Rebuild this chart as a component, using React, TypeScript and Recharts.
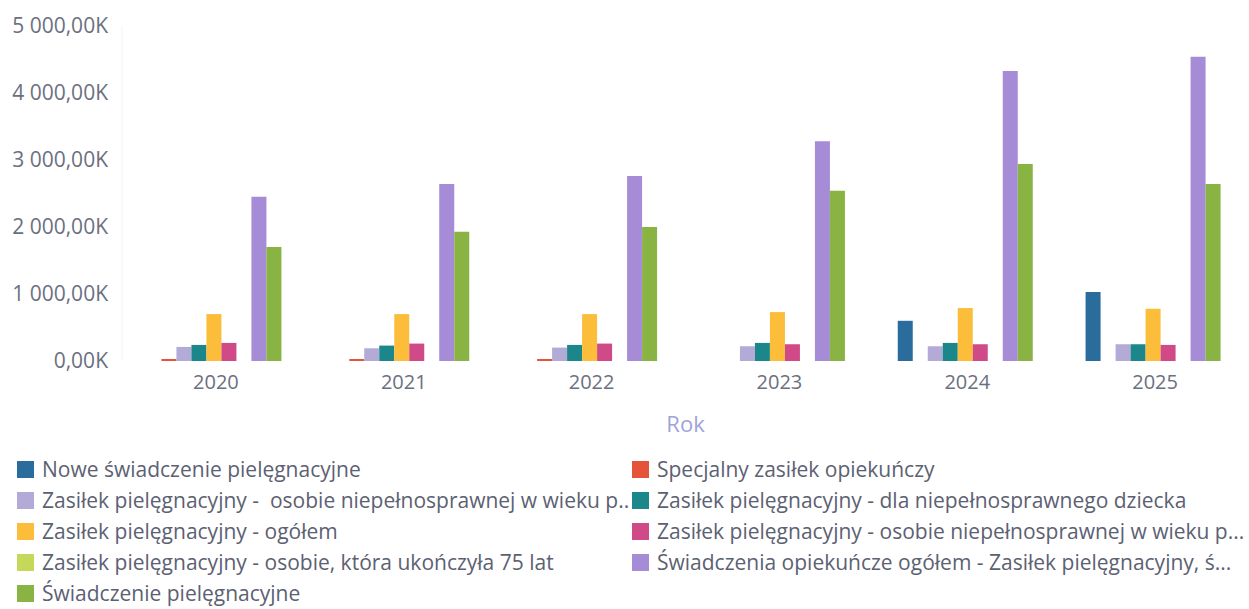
import { BarChart, Bar, XAxis, YAxis, CartesianGrid } from "recharts";

const years = ["2020", "2021", "2022", "2023", "2024", "2025"];

// values in PLN
const nowe = [0, 0, 0, 0, 600000, 1030000];
const specjalny = [30000, 30000, 30000, 0, 0, 0];
const zpWiekuA = [210000, 190000, 200000, 220000, 220000, 250000];
const zpDziecko = [240000, 230000, 240000, 270000, 270000, 250000];
const zpOgolem = [700000, 700000, 700000, 730000, 790000, 780000];
const zpWiekuB = [270000, 260000, 260000, 250000, 250000, 240000];
const zp75 = [0, 0, 0, 0, 0, 0];
const opiekuncze = [2450000, 2640000, 2760000, 3280000, 4330000, 4540000];
const pielegnacyjne = [1700000, 1930000, 2000000, 2540000, 2940000, 2640000];

const yTicks = [0, 1000000, 2000000, 3000000, 4000000, 5000000];

const series = [
  { key: "nowe", name: "Nowe świadczenie pielęgnacyjne", color: "#2a6d9c", values: nowe },
  { key: "specjalny", name: "Specjalny zasiłek opiekuńczy", color: "#e4533a", values: specjalny },
  { key: "zpWiekuA", name: "Zasiłek pielęgnacyjny -  osobie niepełnosprawnej w wieku p..", color: "#b3aad8", values: zpWiekuA },
  { key: "zpDziecko", name: "Zasiłek pielęgnacyjny - dla niepełnosprawnego dziecka", color: "#1b878b", values: zpDziecko },
  { key: "zpOgolem", name: "Zasiłek pielęgnacyjny - ogółem", color: "#fbbd3a", values: zpOgolem },
  { key: "zpWiekuB", name: "Zasiłek pielęgnacyjny - osobie niepełnosprawnej w wieku p...", color: "#cf4a86", values: zpWiekuB },
  { key: "zp75", name: "Zasiłek pielęgnacyjny - osobie, która ukończyła 75 lat", color: "#c5d85a", values: zp75 },
  { key: "opiekuncze", name: "Świadczenia opiekuńcze ogółem - Zasiłek pielęgnacyjny, ś...", color: "#a68bd6", values: opiekuncze },
  { key: "pielegnacyjne", name: "Świadczenie pielęgnacyjne", color: "#89b342", values: pielegnacyjne },
];

const data = years.map((year, i) => {
  const row: Record<string, string | number> = { year };
  series.forEach((s) => {
    row[s.key] = s.values[i];
  });
  return row;
});

const FONT = "'Open Sans', 'Noto Sans', sans-serif";

function fmtK(v: number) {
  const k = v / 1000;
  const [int, dec] = k.toFixed(2).split(".");
  return int.replace(/\B(?=(\d{3})+(?!\d))/g, " ") + "," + dec + "K";
}

export default function App() {
  return (
    <div style={{ position: "absolute", left: 0, top: 0, width: 1249, height: 609, background: "#fff", fontFamily: FONT, overflow: "hidden" }}>
      <BarChart
        width={1249}
        height={445}
        data={data}
        margin={{ top: 26, right: 0, left: 0, bottom: 0 }}
        barCategoryGap="13%"
        barGap={0}
      >
        <CartesianGrid stroke="#f4f4f4" horizontal={false} vertical={false} />
        <XAxis
          dataKey="year"
          height={84}
          axisLine={false}
          tickLine={false}
          tickMargin={8}
          tick={{ fontSize: 20, fill: "#6b7080", fontFamily: FONT }}
          label={{ value: "Rok", position: "insideBottom", offset: 13, fontSize: 22, fill: "#a0a3d8", fontFamily: FONT }}
        />
        <YAxis
          width={122}
          domain={[0, 5000000]}
          ticks={yTicks}
          tickFormatter={fmtK}
          axisLine={{ stroke: "#f3f3f3" }}
          tickLine={false}
          tickMargin={8}
          tick={{ fontSize: 21, fill: "#6b7080", fontFamily: FONT }}
        />
        {series.map((s) => (
          <Bar key={s.key} dataKey={s.key} name={s.name} fill={s.color} isAnimationActive={false} />
        ))}
      </BarChart>
      <div
        style={{
          position: "absolute",
          left: 17,
          top: 454,
          display: "grid",
          gridTemplateColumns: "615px 600px",
          gridAutoRows: "31px",
          fontSize: 21,
          lineHeight: "25px",
          color: "#5c6172",
        }}
      >
        {series.map((s) => (
          <div key={s.key} style={{ display: "flex", alignItems: "center", whiteSpace: "pre" }}>
            <span style={{ display: "inline-block", width: 17, height: 17, background: s.color, marginRight: 8, flexShrink: 0 }} />
            <span>{s.name}</span>
          </div>
        ))}
      </div>
    </div>
  );
}
